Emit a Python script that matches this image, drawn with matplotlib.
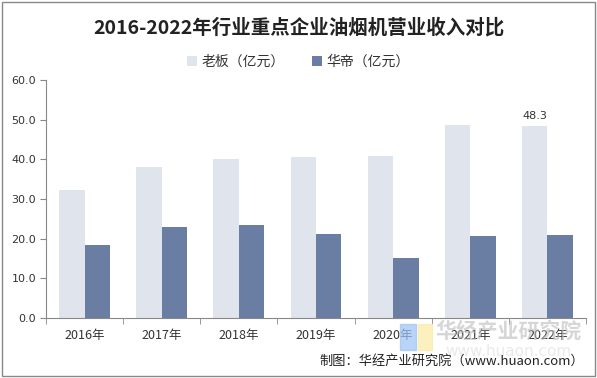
import numpy as np
import matplotlib
matplotlib.use("Agg")
import matplotlib.pyplot as plt
from matplotlib.patches import Rectangle

plt.rcParams['font.family'] = ['Noto Sans CJK SC', 'DejaVu Sans']

# data
years = ["2016年", "2017年", "2018年", "2019年", "2020年", "2021年", "2022年"]
robam = [32.3, 38.1, 40.2, 40.6, 40.8, 48.7, 48.3]
vatti = [18.4, 22.9, 23.4, 21.2, 15.1, 20.7, 20.9]
series_names = ["老板（亿元）", "华帝（亿元）"]
yticks = [0, 10, 20, 30, 40, 50, 60]

c_light = "#e0e4ed"
c_dark = "#6a7da2"

fig = plt.figure(figsize=(5.97, 3.78), dpi=100)
ax = fig.add_axes([46 / 597, 1 - 318 / 378, 540 / 597, 238 / 378])

x = np.arange(len(years))
w = 0.33
ax.bar(x - w / 2, robam, w, color=c_light, label=series_names[0])
ax.bar(x + w / 2, vatti, w, color=c_dark, label=series_names[1])

# only the last light bar carries a label
ax.annotate(f"{robam[-1]:.1f}", (x[-1] - w / 2, robam[-1]), xytext=(0, 4),
            textcoords="offset points", ha="center", va="bottom",
            fontsize=8, color="#333333", family="DejaVu Sans")

ax.set_xlim(-0.5, len(years) - 0.5)
ax.set_ylim(0, 60)
ax.set_yticks(yticks)
ax.set_yticklabels([f"{v:.1f}" for v in yticks], family="DejaVu Sans",
                   fontsize=8, color="#333333")
ax.set_xticks(x)
ax.set_xticklabels(years, fontsize=9, color="#333333")
ax.set_xticks(np.arange(-0.5, len(years)), minor=True)
ax.tick_params(axis="x", which="major", length=0, pad=8)
ax.tick_params(axis="x", which="minor", length=4, color="#888888")
ax.tick_params(axis="y", length=4, color="#888888", pad=3)

for s in ["top", "right"]:
    ax.spines[s].set_visible(False)
ax.spines["left"].set_color("#888888")
ax.spines["bottom"].set_color("#888888")

fig.text(0.5, 1 - 28 / 378, "2016-2022年行业重点企业油烟机营业收入对比",
         ha="center", va="center", fontsize=14, fontweight="bold", color="#222222")

ax.legend(loc="center", bbox_to_anchor=(0.5, 1 - 62 / 378), bbox_transform=fig.transFigure,
          ncol=2, frameon=False, fontsize=10, handlelength=0.7, handleheight=0.7,
          handletextpad=0.3, columnspacing=2.0, labelcolor="#333333")

# watermark
fig.text(508 / 597, 1 - 331 / 378, "华经产业研究院", ha="center", va="center",
         fontsize=15, fontweight="bold", color="#bbbbbb", alpha=0.6)
fig.text(508 / 597, 1 - 352 / 378, "www.huaon.com", ha="center", va="center",
         fontsize=11, color="#d5d5d5", alpha=0.5, family="DejaVu Sans")
fig.patches.append(Rectangle((400 / 597, 1 - 350 / 378), 16 / 597, 26 / 378,
                             transform=fig.transFigure, color="#9cc3f5", alpha=0.7))
fig.patches.append(Rectangle((418 / 597, 1 - 350 / 378), 14 / 597, 26 / 378,
                             transform=fig.transFigure, color="#fbeaa4", alpha=0.7))

fig.text(584 / 597, 1 - 361 / 378, "制图：华经产业研究院（www.huaon.com）",
         ha="right", va="center", fontsize=9.5, color="#222222")

# outer frame
fig.patches.append(Rectangle((2 / 597, 2 / 378), 593 / 597, 374 / 378,
                             transform=fig.transFigure, fill=False,
                             edgecolor="#888888", linewidth=1))

fig.savefig("out.png", dpi=100)
